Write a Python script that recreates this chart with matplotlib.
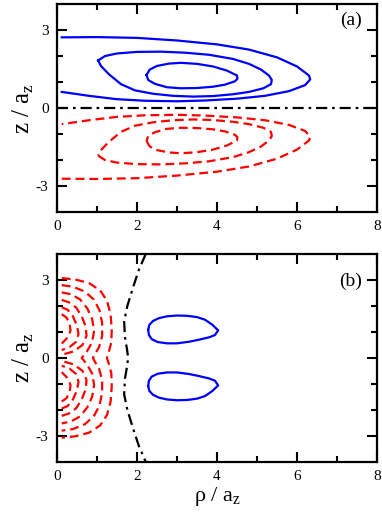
import numpy as np
import matplotlib.pyplot as plt

plt.rcParams['font.family'] = 'Liberation Serif'
plt.rcParams['mathtext.fontset'] = 'custom'
plt.rcParams['mathtext.rm'] = 'Liberation Serif'
plt.rcParams['axes.unicode_minus'] = False

# panel (a): blue contours (z > 0), the red dashed ones are their mirror in z
a_outer_rho = [0.12, 1.0, 2.0, 3.0, 4.0, 4.8, 5.5, 6.0, 6.3, 6.33, 6.2, 5.8, 5.2, 4.5, 3.7, 3.0, 2.2, 1.5, 0.8, 0.12]
a_outer_z = [2.72, 2.73, 2.70, 2.60, 2.45, 2.25, 1.95, 1.60, 1.25, 1.10, 0.88, 0.65, 0.47, 0.36, 0.29, 0.26, 0.28, 0.34, 0.47, 0.62]
a_mid_rho = [1.03, 1.2, 1.5, 2.0, 2.6, 3.2, 3.8, 4.4, 4.8, 5.1, 5.3, 5.37, 5.35, 5.16, 4.8, 4.4,
             3.9, 3.4, 2.9, 2.4, 1.95, 1.6, 1.3, 1.1, 1.03]
a_mid_z = [1.83, 2.0, 2.1, 2.16, 2.17, 2.13, 2.05, 1.89, 1.70, 1.48, 1.25, 1.08, 0.92, 0.76, 0.62, 0.53,
           0.46, 0.44, 0.47, 0.55, 0.68, 0.92, 1.30, 1.62, 1.83]
a_in_rho = [2.24, 2.32, 2.5, 2.8, 3.1, 3.5, 3.9, 4.25, 4.5, 4.51, 4.45, 4.2, 3.9, 3.5, 3.1, 2.75, 2.45, 2.28, 2.24]
a_in_z = [1.27, 1.48, 1.62, 1.71, 1.74, 1.70, 1.60, 1.44, 1.25, 1.12, 1.03, 0.90, 0.82, 0.77, 0.76, 0.80, 0.93, 1.08, 1.27]
a_node_rho = [0, 8]
a_node_z = [0, 0]

# panel (b): blue loop (z > 0, mirrored below)
b_loop_rho = [2.28, 2.31, 2.4, 2.55, 2.75, 3.0, 3.25, 3.5, 3.7, 3.88, 4.03, 3.95, 3.8, 3.55, 3.3, 3.0,
              2.75, 2.52, 2.37, 2.3, 2.28]
b_loop_z = [1.08, 1.27, 1.42, 1.53, 1.60, 1.63, 1.62, 1.57, 1.47, 1.28, 1.06, 0.88, 0.79, 0.70, 0.62, 0.56,
            0.56, 0.61, 0.72, 0.88, 1.08]
# nodal line, upper half
b_node_rho = [2.22, 2.05, 1.90, 1.76, 1.68, 1.70, 1.75, 1.78]
b_node_z = [4.0, 3.4, 2.7, 2.0, 1.4, 0.8, 0.35, 0.0]
# red dashed contours, upper half; the first three run through z = 0
b_red_rho = [
    [0.12, 0.45, 0.80, 1.08, 1.25, 1.34, 1.37, 1.36, 1.30, 1.25],
    [0.12, 0.40, 0.70, 0.92, 1.06, 1.13, 1.13, 1.05, 0.95, 0.90],
    [0.12, 0.35, 0.58, 0.76, 0.88, 0.93, 0.88, 0.75, 0.62],
    [0.12, 0.30, 0.48, 0.62, 0.72, 0.74, 0.64, 0.42, 0.12],
    [0.12, 0.27, 0.40, 0.50, 0.54, 0.48, 0.32, 0.12],
    [0.12, 0.24, 0.32, 0.34, 0.28, 0.12],
]
b_red_z = [
    [3.07, 3.02, 2.88, 2.60, 2.20, 1.70, 1.10, 0.60, 0.25, 0.0],
    [2.80, 2.74, 2.55, 2.25, 1.85, 1.35, 0.85, 0.40, 0.15, 0.0],
    [2.52, 2.45, 2.25, 1.90, 1.50, 1.05, 0.60, 0.25, 0.0],
    [2.23, 2.14, 1.94, 1.60, 1.20, 0.85, 0.50, 0.25, 0.12],
    [1.95, 1.85, 1.60, 1.25, 0.92, 0.62, 0.42, 0.30],
    [1.68, 1.55, 1.30, 1.05, 0.80, 0.55],
]

blue = '#0000ff'
red = '#ff0000'
lw = 1.6
dash = (0, (4, 2.2))
dashdot = (0, (5, 2.2, 1.2, 2.2))

fig = plt.figure(figsize=(3.82, 5.12), dpi=100)
ax1 = fig.add_axes([0.149, 0.586, 0.838, 0.406])
ax2 = fig.add_axes([0.149, 0.098, 0.838, 0.406])

for ax in (ax1, ax2):
    ax.set_xlim(0, 8)
    ax.set_ylim(-4, 4)
    ax.set_xticks([0, 2, 4, 6, 8])
    ax.set_xticks([1, 3, 5, 7], minor=True)
    ax.set_yticks([-3, 0, 3])
    ax.set_yticks([-2, -1, 1, 2], minor=True)
    ax.tick_params(which='both', direction='in', top=True, right=True, width=1.5, labelsize=11, pad=6)
    ax.tick_params(which='major', length=7)
    ax.tick_params(which='minor', length=4)
    for s in ax.spines.values():
        s.set_linewidth(1.6)
    ax.set_ylabel(r'z / a$_\mathrm{z}$', fontsize=18, labelpad=0)

# (a)
for r, z in [(a_outer_rho, a_outer_z), (a_mid_rho, a_mid_z), (a_in_rho, a_in_z)]:
    ax1.plot(r, z, color=blue, lw=lw)
    ax1.plot(r, -np.array(z), color=red, lw=lw, linestyle=dash)
ax1.plot(a_node_rho, a_node_z, color='black', lw=lw, linestyle=dashdot)
ax1.text(0.953, 0.923, '(a)', transform=ax1.transAxes, ha='right', va='center', fontsize=14)

# (b)
ax2.plot(b_loop_rho, b_loop_z, color=blue, lw=lw)
ax2.plot(b_loop_rho, -np.array(b_loop_z), color=blue, lw=lw)
nr = b_node_rho + b_node_rho[::-1][1:]
nz = b_node_z + [-v for v in b_node_z[::-1][1:]]
ax2.plot(nr, nz, color='black', lw=lw, linestyle=dashdot)
for i, (r, z) in enumerate(zip(b_red_rho, b_red_z)):
    if i < 3:
        ax2.plot(r + r[::-1][1:], z + [-v for v in z[::-1][1:]], color=red, lw=lw, linestyle=dash)
    else:
        ax2.plot(r, z, color=red, lw=lw, linestyle=dash)
        ax2.plot(r, [-v for v in z], color=red, lw=lw, linestyle=dash)
ax2.text(0.953, 0.87, '(b)', transform=ax2.transAxes, ha='right', va='center', fontsize=14)
ax2.set_xlabel(r'ρ / a$_\mathrm{z}$', fontsize=16, labelpad=1)

fig.savefig('out.png', dpi=100)
